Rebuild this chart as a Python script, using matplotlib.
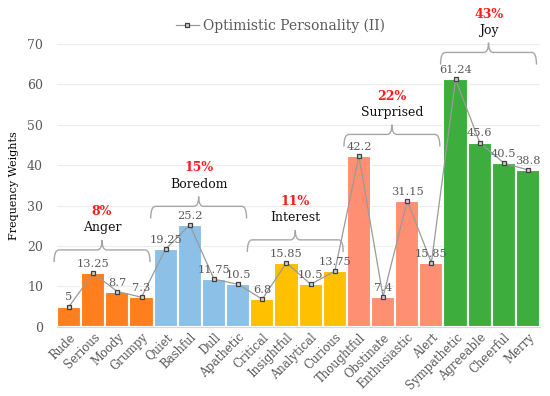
import matplotlib
matplotlib.use("Agg")
import matplotlib.pyplot as plt
from matplotlib.path import Path
from matplotlib.patches import PathPatch

categories = ["Rude", "Serious", "Moody", "Grumpy",
              "Quiet", "Bashful", "Dull", "Apathetic",
              "Critical", "Insightful", "Analytical", "Curious",
              "Thoughtful", "Obstinate", "Enthusiastic", "Alert",
              "Sympathetic", "Agreeable", "Cheerful", "Merry"]
values = [5, 13.25, 8.7, 7.3,
          19.25, 25.2, 11.75, 10.5,
          6.8, 15.85, 10.5, 13.75,
          42.2, 7.4, 31.15, 15.85,
          61.24, 45.6, 40.5, 38.8]
value_labels = ["5", "13.25", "8.7", "7.3",
                "19.25", "25.2", "11.75", "10.5",
                "6.8", "15.85", "10.5", "13.75",
                "42.2", "7.4", "31.15", "15.85",
                "61.24", "45.6", "40.5", "38.8"]
groups = ["Anger", "Boredom", "Interest", "Surprised", "Joy"]
group_pcts = ["8%", "15%", "11%", "22%", "43%"]
group_colors = ["#FF7F1E", "#8DC0E6", "#FFC000", "#FF8F72", "#3DAE3E"]
group_size = 4
series_name = "Optimistic Personality (II)"

# bracket vertical placement (data units)
bracket_y = [19.0, 29.8, 21.5, 47.6, 67.9]

FONT = "DejaVu Serif"
GRAY = "#595959"

fig = plt.figure(figsize=(5.5, 3.96), dpi=100)
ax = fig.add_axes([0.1036, 0.175, 0.8784, 0.714])

x = list(range(len(categories)))
colors = [group_colors[i // group_size] for i in x]
ax.bar(x, values, width=1.0, color=colors, edgecolor="white", linewidth=1.5, zorder=2)
line, = ax.plot(x, values, color="#9a9a9a", lw=0.9, marker="s", markersize=3.5,
                markerfacecolor="#d0d0d0", markeredgecolor="#404040", markeredgewidth=0.9,
                zorder=3, label=series_name)

for xi, v, lab in zip(x, values, value_labels):
    ax.text(xi, v + 1.0, lab, ha="center", va="bottom", fontsize=8.2,
            color=GRAY, family=FONT, zorder=4)

ax.set_xlim(-0.5, len(categories) - 0.5)
ax.set_ylim(0, 70)
ax.set_yticks(range(0, 71, 10))
ax.yaxis.grid(True, color="#ececec", lw=0.8, zorder=0)
ax.set_axisbelow(True)
for s in ["top", "right", "left"]:
    ax.spines[s].set_visible(False)
ax.spines["bottom"].set_color("#d9d9d9")
ax.tick_params(axis="both", length=0, colors=GRAY)
ax.set_xticks(x)
ax.set_xticklabels(categories, rotation=45, ha="right", rotation_mode="anchor",
                   fontsize=8.4, family=FONT, color=GRAY)
for t in ax.get_yticklabels():
    t.set_family(FONT)
    t.set_fontsize(9)
ax.tick_params(axis="y", pad=10)
ax.tick_params(axis="x", pad=3)
ax.set_ylabel("Frequency Weights", family=FONT, fontsize=8, color="black", labelpad=6)

def brace(x0, x1, yh, drop=3.0, tip=2.4, r=0.2):
    xc = (x0 + x1) / 2
    yend = yh - drop
    verts = [(x0, yend), (x0, yh), (x0 + r, yh),
             (xc - r, yh), (xc, yh), (xc, yh + tip),
             (xc, yh), (xc + r, yh),
             (x1 - r, yh), (x1, yh), (x1, yend)]
    codes = [Path.MOVETO, Path.CURVE3, Path.CURVE3,
             Path.LINETO, Path.CURVE3, Path.CURVE3,
             Path.CURVE3, Path.CURVE3,
             Path.LINETO, Path.CURVE3, Path.CURVE3]
    p = PathPatch(Path(verts, codes), fill=False, edgecolor="#a6a6a6", lw=1.0,
                  clip_on=False, zorder=5)
    ax.add_patch(p)
    return xc

for g, (name, pct, yh) in enumerate(zip(groups, group_pcts, bracket_y)):
    x0 = g * group_size - 0.62
    x1 = g * group_size + group_size - 0.65
    xc = brace(x0, x1, yh)
    ax.text(xc, yh + 5.5, name, ha="center", va="center", fontsize=9,
            family=FONT, color="#111111", clip_on=False)
    ax.text(xc, yh + 9.5, pct, ha="center", va="center", fontsize=9,
            family=FONT, color="#FF1A1A", fontweight="bold", clip_on=False)

leg = fig.legend(handles=[line], loc="center", bbox_to_anchor=(0.51, 0.935),
                 frameon=False, prop={"family": FONT, "size": 10},
                 handlelength=1.6, handletextpad=0.3)
for t in leg.get_texts():
    t.set_color(GRAY)

fig.savefig("out.png", dpi=100)
